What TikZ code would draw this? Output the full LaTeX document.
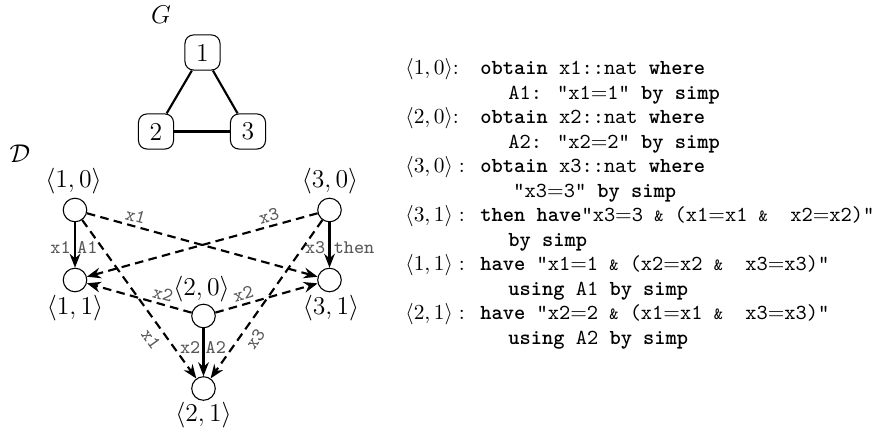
\documentclass[tikz,border=0pt]{standalone}
\usetikzlibrary{arrows.meta}
\newcommand\kw[1]{\textbf{#1}}
\newcommand\eqs{{\rmfamily=}}
\newcommand\amp{{\footnotesize\&}}
\begin{document}
\begin{tikzpicture}[x=0.4673pt,y=-0.4673pt,
  gbox/.style={draw,rounded corners=4pt,minimum size=16.4pt,inner sep=0pt,font=\large,line width=0.5pt},
  st/.style={draw,circle,minimum size=11pt,inner sep=0pt,line width=0.5pt},
  gedge/.style={line width=1pt},
  sol/.style={line width=1pt,-{Stealth[length=6.5pt,width=5pt]}},
  dsh/.style={sol,dash pattern=on 4pt off 2.5pt},
  elab/.style={font=\ttfamily\small,text=black!65,inner sep=1.5pt},
  slab/.style={font=\large,inner sep=0pt},
  rlab/.style={anchor=base west,inner sep=0pt},
  rtxt/.style={anchor=base west,inner sep=0pt,font=\ttfamily}]
\useasboundingbox (0,0) rectangle (889,431);

% graph G
\node[font=\large] (Glab) at (161,14.5) {$G$};
\node[gbox] (g1) at (202.5,52.5) {1};
\node[gbox] (g2) at (156,131.5) {2};
\node[gbox] (g3) at (248,131.5) {3};
\draw[gedge] (g1) -- (g2);
\draw[gedge] (g1) -- (g3);
\draw[gedge] (g2) -- (g3);

% graph D
\node[font=\large] (Dlab) at (20,154) {$\mathcal{D}$};
\node[st] (a10) at (75,210) {};
\node[st] (a11) at (75,280) {};
\node[st] (a30) at (329.5,210) {};
\node[st] (a31) at (329.5,280) {};
\node[st] (a20) at (203.5,316) {};
\node[st] (a21) at (203.5,388.5) {};
\node[slab] (l10) at (73.5,181) {$\langle 1,0\rangle$};
\node[slab] (l11) at (75,308.5) {$\langle 1,1\rangle$};
\node[slab] (l30) at (330,181) {$\langle 3,0\rangle$};
\node[slab] (l31) at (331,308.5) {$\langle 3,1\rangle$};
\node[slab] (l20) at (201.5,289) {$\langle 2,0\rangle$};
\node[slab] (l21) at (203.5,415) {$\langle 2,1\rangle$};

\draw[sol] (a10) -- node[elab,left,pos=0.55]{x1} node[elab,right,pos=0.55,inner sep=0.5pt]{A1} (a11);
\draw[sol] (a30) -- node[elab,left,pos=0.55]{x3} node[elab,right,pos=0.55]{then} (a31);
\draw[sol] (a20) -- node[elab,left,pos=0.4,inner sep=1pt]{x2} node[elab,right,pos=0.4,inner sep=0.5pt]{A2} (a21);

\draw[dsh] (a10) -- node[elab,sloped,above,pos=0.2]{x1} (a31);
\draw[dsh] (a30) -- node[elab,sloped,above,pos=0.2]{x3} (a11);
\draw[dsh] (a20) -- node[elab,sloped,above,pos=0.3]{x2} (a11);
\draw[dsh] (a20) -- node[elab,sloped,above,pos=0.3]{x2} (a31);
\draw[dsh] (a10) -- node[elab,sloped,below,pos=0.7,inner sep=3pt]{x1} (a21);
\draw[dsh] (a30) -- node[elab,sloped,below,pos=0.7,inner sep=3pt]{x3} (a21);

% listing
\node[rlab] (r1l) at (405,75) {$\langle 1,0\rangle$:};
\node[rtxt] (r1) at (480,75) {\kw{obtain} x1::nat \kw{where}};
\node[rtxt] (r2) at (508,99.5) {A1: "x1\eqs1" \kw{by simp}};
\node[rlab] (r3l) at (405,124) {$\langle 2,0\rangle$:};
\node[rtxt] (r3) at (480,124) {\kw{obtain} x2::nat \kw{where}};
\node[rtxt] (r4) at (508,148.5) {A2: "x2\eqs2" \kw{by simp}};
\node[rlab] (r5l) at (405,173) {$\langle 3,0\rangle:$};
\node[rtxt] (r5) at (480,173) {\kw{obtain} x3::nat \kw{where}};
\node[rtxt] (r6) at (513,197.5) {"x3\eqs3" \kw{by simp}};
\node[rlab] (r7l) at (405,222) {$\langle 3,1\rangle:$};
\node[rtxt] (r7) at (480,222) {\kw{then have}"x3\eqs3 \amp{} (x1\eqs x1 \amp{}\ \ x2\eqs x2)"};
\node[rtxt] (r8) at (508,246.5) {\kw{by simp}};
\node[rlab] (r9l) at (405,271) {$\langle 1,1\rangle:$};
\node[rtxt] (r9) at (480,271) {\kw{have} "x1\eqs1 \amp{} (x2\eqs x2 \amp{}\ \ x3\eqs x3)"};
\node[rtxt] (r10) at (508,295.5) {\kw{using} A1 \kw{by simp}};
\node[rlab] (r11l) at (405,320) {$\langle 2,1\rangle:$};
\node[rtxt] (r11) at (480,320) {\kw{have} "x2\eqs2 \amp{} (x1\eqs x1 \amp{}\ \ x3\eqs x3)"};
\node[rtxt] (r12) at (508,344.5) {\kw{using} A2 \kw{by simp}};
\end{tikzpicture}
\end{document}
